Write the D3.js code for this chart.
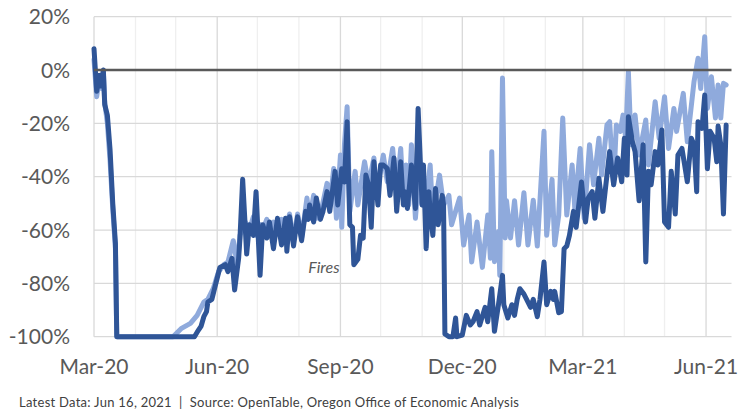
<!DOCTYPE html>
<html><head><meta charset="utf-8">
<script src="https://cdn.jsdelivr.net/npm/d3@7"></script>
<style>
html,body{margin:0;padding:0;background:#fff;}
svg{display:block;font-family:Lato,"Open Sans",sans-serif;}
</style></head>
<body>
<svg id="chart" width="739" height="415"></svg>
<script>
// ---- data (percent change vs. 2019, seated diners) ----
const oregonDates = ["2020-03-01","2020-03-03","2020-03-05","2020-03-06","2020-03-08","2020-03-09","2020-03-11","2020-03-13","2020-03-15","2020-03-17","2020-03-18",
"2020-05-15","2020-05-18","2020-05-20","2020-05-22","2020-05-24","2020-05-25","2020-05-28","2020-05-30","2020-06-01","2020-06-03","2020-06-07","2020-06-09","2020-06-12","2020-06-14","2020-06-17","2020-06-18","2020-06-20","2020-06-23","2020-06-25","2020-06-28","2020-06-30",
"2020-07-03","2020-07-05","2020-07-08","2020-07-10","2020-07-13","2020-07-16","2020-07-19","2020-07-22","2020-07-23","2020-07-25","2020-07-28","2020-07-31",
"2020-08-03","2020-08-06","2020-08-08","2020-08-09","2020-08-12","2020-08-14","2020-08-17","2020-08-19","2020-08-22","2020-08-24","2020-08-28","2020-08-30",
"2020-09-02","2020-09-04","2020-09-06","2020-09-08","2020-09-10","2020-09-11","2020-09-14","2020-09-16","2020-09-18","2020-09-20","2020-09-22","2020-09-24","2020-09-26","2020-09-29",
"2020-10-01","2020-10-03","2020-10-06","2020-10-08","2020-10-11","2020-10-13","2020-10-16","2020-10-18","2020-10-19","2020-10-21","2020-10-24","2020-10-27","2020-10-29",
"2020-11-01","2020-11-02","2020-11-04","2020-11-06","2020-11-07","2020-11-09","2020-11-11","2020-11-13","2020-11-16","2020-11-17","2020-11-18","2020-11-21","2020-11-24","2020-11-26","2020-11-27",
"2020-12-01","2020-12-04","2020-12-07","2020-12-09","2020-12-12","2020-12-14","2020-12-18","2020-12-20","2020-12-23","2020-12-25","2020-12-28","2020-12-31",
"2021-01-01","2021-01-04","2021-01-07","2021-01-09","2021-01-11","2021-01-13","2021-01-16","2021-01-18","2021-01-21","2021-01-23","2021-01-26","2021-01-28","2021-01-31",
"2021-02-02","2021-02-05","2021-02-07","2021-02-08","2021-02-11","2021-02-13","2021-02-15","2021-02-17","2021-02-19","2021-02-22","2021-02-24","2021-02-28",
"2021-03-03","2021-03-05","2021-03-08","2021-03-10","2021-03-13","2021-03-16","2021-03-19","2021-03-21","2021-03-24","2021-03-27","2021-03-30",
"2021-04-01","2021-04-03","2021-04-04","2021-04-07","2021-04-09","2021-04-12","2021-04-15","2021-04-17","2021-04-19","2021-04-21","2021-04-24","2021-04-26","2021-04-29",
"2021-05-01","2021-05-04","2021-05-06","2021-05-09","2021-05-11","2021-05-14","2021-05-16","2021-05-18","2021-05-21","2021-05-23","2021-05-25","2021-05-26","2021-05-29","2021-05-31",
"2021-06-02","2021-06-04","2021-06-07","2021-06-09","2021-06-10","2021-06-12","2021-06-14","2021-06-16"];
const oregonValues = [8,-8,-2,-6,0,-13,-17,-30,-50,-65,-100,
-100,-97.5,-96,-92.5,-90.6,-87,-86,-82,-78,-74,-73,-75.6,-70.6,-82.5,-70.6,-63,-41,-69,-58,-62,-45.6,
-77,-58,-63,-57,-67,-55.6,-65.6,-55.6,-68,-55,-66,-55,
-64,-53,-56,-50.6,-57,-48,-56,-53,-45.6,-53,-38,-50.6,
-37,-42,-19.4,-58,-59,-73,-71,-62,-63,-39.4,-43,-59,-34.4,-50.6,
-35.6,-35.6,-37,-47,-33,-53,-34.4,-50.6,-45.6,-51.9,-35.6,-51.9,-14.4,
-50.6,-35.6,-67,-45.6,-53,-62,-44.4,-58,-47,-50.6,-99,-100,-100,-93,-100,
-99.4,-92,-95.6,-94.4,-90.6,-95.6,-89,-94.4,-82,-98,-88,-77,
-88,-93,-88,-92,-86,-82,-84,-86,-89,-86,-92.5,-86,-72,
-88,-83,-86,-83,-91,-90.6,-67,-66,-62,-53,-59,-42,
-57,-48,-45.6,-55.6,-40.6,-53,-39.4,-30.6,-43,-33,-41.9,
-25.6,-39.4,-17.5,-26.9,-30.6,-49,-28,-72,-38,-43,-30.6,-35.6,-22.5,
-57,-59,-38,-54,-31.9,-29.4,-35.6,-41.9,-25.6,-28,-45.6,-19.4,-21.9,-9.4,
-37,-23,-25.6,-34.4,-21,-28,-54,-20.6];

const usDates = ["2020-03-01","2020-03-03","2020-03-05","2020-03-07","2020-03-08","2020-03-09","2020-03-11","2020-03-13","2020-03-15","2020-03-17","2020-03-18",
"2020-04-29","2020-05-05","2020-05-12","2020-05-17","2020-05-22","2020-05-25","2020-05-29","2020-06-02","2020-06-06","2020-06-09","2020-06-13","2020-06-16","2020-06-18","2020-06-22","2020-06-25","2020-06-28","2020-06-30",
"2020-07-03","2020-07-05","2020-07-08","2020-07-10","2020-07-13","2020-07-16","2020-07-19","2020-07-22","2020-07-25","2020-07-28","2020-07-31",
"2020-08-03","2020-08-07","2020-08-09","2020-08-12","2020-08-14","2020-08-18","2020-08-22","2020-08-24","2020-08-27","2020-08-29",
"2020-09-01","2020-09-02","2020-09-04","2020-09-06","2020-09-08","2020-09-12","2020-09-14","2020-09-19","2020-09-22","2020-09-26","2020-09-28",
"2020-10-03","2020-10-06","2020-10-10","2020-10-13","2020-10-16","2020-10-18","2020-10-20","2020-10-22","2020-10-24","2020-10-27","2020-10-29",
"2020-11-01","2020-11-04","2020-11-07","2020-11-09","2020-11-14","2020-11-17","2020-11-21","2020-11-23","2020-11-29",
"2020-12-02","2020-12-06","2020-12-08","2020-12-12","2020-12-16","2020-12-20","2020-12-22","2020-12-23","2020-12-25","2020-12-28","2020-12-29","2020-12-31",
"2021-01-02","2021-01-03","2021-01-06","2021-01-09","2021-01-12","2021-01-16","2021-01-19","2021-01-23","2021-01-26","2021-01-31",
"2021-02-02","2021-02-06","2021-02-08","2021-02-11","2021-02-14","2021-02-17","2021-02-21","2021-02-23","2021-02-27",
"2021-03-02","2021-03-06","2021-03-09","2021-03-13","2021-03-15","2021-03-19","2021-03-21","2021-03-24","2021-03-26","2021-03-29","2021-03-31",
"2021-04-02","2021-04-04","2021-04-06","2021-04-09","2021-04-12","2021-04-17","2021-04-19","2021-04-24","2021-04-27",
"2021-05-01","2021-05-04","2021-05-08","2021-05-10","2021-05-15","2021-05-18","2021-05-23","2021-05-26","2021-05-28","2021-05-31",
"2021-06-02","2021-06-05","2021-06-08","2021-06-10","2021-06-12","2021-06-14","2021-06-16"];
const usValues = [4,-10,-3,-7,-1,-12,-20,-34,-52,-67,-100,
-100,-97,-95,-92,-87,-86,-82,-75.6,-73,-72,-64,-73,-62,-57,-60,-55,-62,
-58,-60,-56,-62,-57,-60,-56,-60,-54,-64,-54,
-63,-48,-55.6,-47,-55.6,-51.9,-42.5,-50.6,-36.9,-55.6,
-31.9,-59,-28,-13.75,-53,-38,-50.6,-34.4,-43,-33,-45.6,
-31.9,-41.9,-29.4,-45.6,-29.4,-48,-35.6,-50.6,-28,-55.6,-43,
-50.6,-49.4,-35.6,-55.6,-39.4,-50.6,-47,-58,-48,
-65.6,-54.4,-72,-57,-74,-54.4,-70.6,-30.6,-71.9,-60.6,-77,-3,
-63,-49,-63,-49,-65.6,-46,-65.6,-48.8,-66,-23,
-62,-41,-65.6,-54.4,-18,-54.4,-35.6,-52,-29.4,
-55.6,-28,-43,-25.6,-39.4,-20.6,-19.4,-43,-20.6,-23,-16.9,
-25.6,-0.6,-28,-16.9,-31.9,-18.75,-35.6,-11.9,-25.6,
-10,-29.4,-14.4,-23,-8.75,-26.9,-4.4,4.4,-6.9,12.5,
-14.4,-2.5,-18,-5.6,-18,-5,-5.6];

const yTicks = [20,0,-20,-40,-60,-80,-100];
const xTickDates = ["2020-03-01","2020-06-01","2020-09-01","2020-12-01","2021-03-01","2021-06-01"];
const xTickLabels = ["Mar-20","Jun-20","Sep-20","Dec-20","Mar-21","Jun-21"];
const footerText = "Latest Data: Jun 16, 2021  |  Source: OpenTable, Oregon Office of Economic Analysis";
const annotation = {text:"Fires", date:"2020-08-08", value:-76};

// ---- layout ----
const parse = d3.timeParse("%Y-%m-%d");
const svg = d3.select("#chart");
const plotLeft = 94, plotRight = 731.5, plotTop = 16.7, plotBottom = 336.7;
const x = d3.scaleTime().domain([parse("2020-03-01"), parse("2021-06-20")]).range([plotLeft, plotRight]);
const y = d3.scaleLinear().domain([-100, 20]).range([plotBottom, plotTop]);

// vertical month gridlines
const months = d3.timeMonth.range(parse("2020-03-01"), parse("2021-06-02"));
svg.append("g").selectAll("line").data(months).join("line")
  .attr("x1", d => x(d)).attr("x2", d => x(d))
  .attr("y1", plotTop).attr("y2", plotBottom)
  .attr("stroke", d => (d.getMonth() % 3 === 2) ? "#d9d9d9" : "#efefef")
  .attr("stroke-width", 1.3);

// horizontal gridlines
svg.append("g").selectAll("line").data(yTicks.filter(v => v !== 0)).join("line")
  .attr("x1", plotLeft).attr("x2", plotRight)
  .attr("y1", d => y(d)).attr("y2", d => y(d))
  .attr("stroke", "#d9d9d9").attr("stroke-width", 1.3);

// y labels
svg.append("g").selectAll("text").data(yTicks).join("text")
  .attr("x", 70).attr("y", d => y(d) + 7.5)
  .attr("text-anchor", "end")
  .attr("font-size", 21).attr("fill", "#595959")
  .text(d => d + "%");

// x labels
svg.append("g").selectAll("text").data(xTickDates).join("text")
  .attr("x", d => x(parse(d))).attr("y", 374)
  .attr("text-anchor", "middle")
  .attr("font-size", 21).attr("fill", "#595959")
  .text((d, i) => xTickLabels[i]);

// lines
const line = d3.line().x(d => x(d[0])).y(d => y(d[1])).curve(d3.curveLinear);
const usData = usDates.map((d, i) => [parse(d), usValues[i]]);
const orData = oregonDates.map((d, i) => [parse(d), oregonValues[i]]);

svg.append("path").datum(usData).attr("d", line)
  .attr("fill", "none").attr("stroke", "#8faadc").attr("stroke-width", 5)
  .attr("stroke-linejoin", "round").attr("stroke-linecap", "round");
svg.append("path").datum(orData).attr("d", line)
  .attr("fill", "none").attr("stroke", "#2f5597").attr("stroke-width", 5)
  .attr("stroke-linejoin", "round").attr("stroke-linecap", "round");

// zero line
svg.append("line").attr("x1", plotLeft).attr("x2", plotRight)
  .attr("y1", y(0)).attr("y2", y(0))
  .attr("stroke", "#595959").attr("stroke-width", 2.5);

// annotation
svg.append("text")
  .attr("x", x(parse(annotation.date))).attr("y", y(annotation.value))
  .attr("font-size", 16).attr("font-style", "italic").attr("fill", "#595959")
  .text(annotation.text);

// footer
svg.append("text").attr("x", 19).attr("y", 407)
  .attr("font-size", 13).attr("fill", "#404040")
  .attr("textLength", 500).attr("lengthAdjust", "spacing")
  .attr("xml:space", "preserve").style("white-space", "pre")
  .text(footerText);
</script>
</body></html>
